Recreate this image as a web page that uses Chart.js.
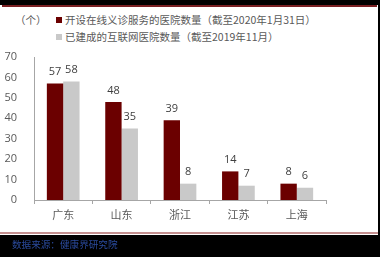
<!DOCTYPE html>
<html>
<head>
<meta charset="utf-8">
<script src="https://cdn.jsdelivr.net/npm/chart.js@4/dist/chart.umd.min.js"></script>
<style>
  html, body { margin: 0; padding: 0; background: #000; }
  #wrap { position: relative; width: 380px; height: 257px; overflow: hidden; background: #000; }
  #paper { position: absolute; left: 0; top: 5px; width: 378px; height: 230px; background: #fff; }
  #topline { position: absolute; left: 2px; top: 5px; width: 375px; height: 2px; background: #7a1f22; }
  #botline { position: absolute; left: 0; top: 232px; width: 378px; height: 2px; background: #c49090; }
  #unit { position: absolute; left: 15px; top: 12px; font: 10.5px "Noto Sans CJK SC"; color: #595959; }
  #legend { position: absolute; left: 56px; top: 12px; font: 10.5px "Noto Sans CJK SC"; color: #595959; }
  #legend div { height: 17px; line-height: 16px; white-space: nowrap; }
  #legend span { display: inline-block; width: 6px; height: 6px; margin-right: 3px; vertical-align: 1px; }
  #source { position: absolute; left: 12px; top: 237px; font: 9.6px "Noto Sans CJK SC"; color: #2a4a9c; }
  canvas { position: absolute; left: 0; top: 0; }
</style>
</head>
<body>
<div id="wrap">
  <div id="paper"></div>
  <div id="topline"></div>
  <div id="botline"></div>
  <div id="unit">（个）</div>
  <div id="legend"></div>
  <canvas id="c" width="380" height="257"></canvas>
  <div id="source">数据来源：健康界研究院</div>
</div>
<script>
const categories = ['广东', '山东', '浙江', '江苏', '上海'];
const seriesNames = ['开设在线义诊服务的医院数量（截至2020年1月31日）', '已建成的互联网医院数量（截至2019年11月）'];
const onlineClinic = [57, 48, 39, 14, 8];
const internetHospital = [58, 35, 8, 7, 6];
const yTicks = [0, 10, 20, 30, 40, 50, 60, 70];
const colors = ['#6b0000', '#c9c9c9'];

// legend as html, built from the series names
const legend = document.getElementById('legend');
seriesNames.forEach((name, i) => {
  const row = document.createElement('div');
  row.innerHTML = '<span style="background:' + colors[i] + '"></span>' + name;
  legend.appendChild(row);
});

const valueLabels = {
  id: 'valueLabels',
  afterDatasetsDraw(chart) {
    const ctx = chart.ctx;
    ctx.save();
    ctx.font = '11px "Open Sans"';
    ctx.fillStyle = '#404040';
    ctx.textAlign = 'center';
    ctx.textBaseline = 'bottom';
    chart.data.datasets.forEach((ds, i) => {
      chart.getDatasetMeta(i).data.forEach((bar, j) => {
        ctx.fillText(ds.data[j], bar.x, bar.y - 6);
      });
    });
    ctx.restore();
  }
};

new Chart(document.getElementById('c'), {
  type: 'bar',
  data: {
    labels: categories,
    datasets: [
      { label: seriesNames[0], data: onlineClinic, backgroundColor: colors[0] },
      { label: seriesNames[1], data: internetHospital, backgroundColor: colors[1] }
    ]
  },
  options: {
    responsive: false,
    animation: false,
    layout: { padding: { left: 0, top: 57, right: 54, bottom: 33 } },
    categoryPercentage: 0.56,
    barPercentage: 1,
    plugins: { legend: { display: false }, tooltip: { enabled: false } },
    scales: {
      x: {
        grid: { display: true, drawOnChartArea: false, drawTicks: true, tickLength: 4, color: '#a6a6a6' },
        border: { display: true, color: '#a6a6a6', width: 1 },
        ticks: { font: { size: 11, family: '"Noto Sans CJK SC"' }, color: '#595959', padding: 4 },
        afterFit(scale) { scale.height = 24; }
      },
      y: {
        min: 0, max: 70,
        afterBuildTicks(scale) { scale.ticks = yTicks.map(v => ({ value: v })); },
        grid: { display: false },
        border: { display: true, color: '#a6a6a6', width: 1 },
        ticks: { font: { size: 11, family: '"Open Sans"' }, color: '#595959', padding: 9 },
        afterFit(scale) { scale.width = 34; }
      }
    }
  },
  plugins: [valueLabels]
});
</script>
</body>
</html>
